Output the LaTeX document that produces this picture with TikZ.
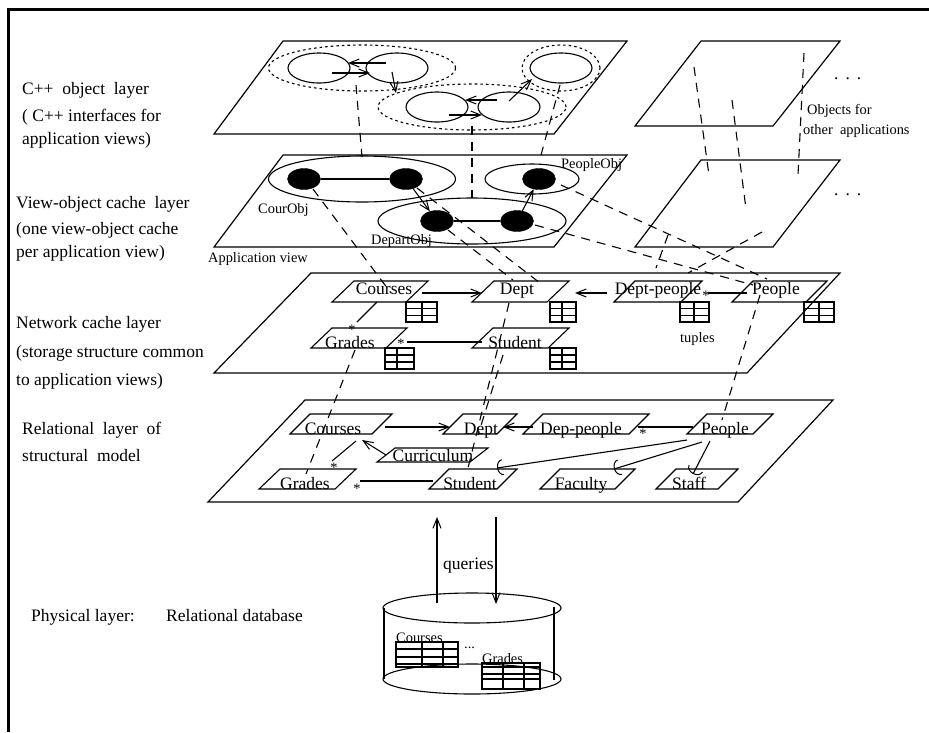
\documentclass[tikz,border=0pt]{standalone}
\usepackage{fontspec}
\setmainfont{Liberation Serif}
\usetikzlibrary{arrows.meta,shapes.geometric}
\tikzset{
  >={Straight Barb[length=10pt,width=8pt,line width=1pt]},
  every node/.style={inner sep=0pt},
  frameline/.style={line width=3pt},
  plane/.style={line width=1.2pt,line join=miter},
  entline/.style={line width=1.1pt},
  tabline/.style={line width=1.1pt},
  arrow/.style={->,line width=1.1pt},
  plain/.style={line width=1.1pt},
  hook/.style={-{Arc Barb[length=6pt,width=16pt,line width=1pt]},line width=1.1pt},
  dashedline/.style={line width=1.1pt,dash pattern=on 9pt off 7pt},
  oval/.style={ellipse,draw,line width=1.1pt},
  group/.style={oval,dash pattern=on 2.6pt off 3pt},
  blackdot/.style={ellipse,draw,fill=black,minimum width=33pt,minimum height=21pt},
  biglbl/.style={font=\fontsize{17.5}{20}\selectfont,anchor=base west},
  smalllbl/.style={font=\fontsize{14.4}{17}\selectfont,anchor=base west},
  entlbl/.style={font=\fontsize{17.5}{20}\selectfont,anchor=base},
  star/.style={font=\fontsize{14.4}{17}\selectfont,anchor=base},
}
\newcommand{\ent}[9]{%
  \draw[entline] (#2,#5) -- ({#2+#6},#4) -- (#3,#4) -- ({#3-#6},#5) -- cycle;
  \node[entlbl] (#1) at (#7,#8) {#9};
}
\newcommand{\gridtab}[5]{%
  \draw[tabline] (#1,#2) rectangle (#3,#4) (#5,#2) -- (#5,#4)
    (#1,{#2+(#4-#2)/3}) -- (#3,{#2+(#4-#2)/3}) (#1,{#2+2*(#4-#2)/3}) -- (#3,{#2+2*(#4-#2)/3});
}
\begin{document}
\begin{tikzpicture}[x=1pt,y=-1pt]
\useasboundingbox (0,0) rectangle (929,732);
\draw[frameline] (929,9) -- (8,9) -- (8,732);

\node[biglbl] (t1) at (22,94) {C++~ object~ layer};
\node[biglbl] (t2) at (22,121) {( C++ interfaces for};
\node[biglbl] (t3) at (22,144) {application views)};
\node[biglbl] (t4) at (16,208) {View-object cache~ layer};
\node[biglbl] (t5) at (16,234) {(one view-object cache};
\node[biglbl] (t6) at (16,257) {per application view)};
\node[biglbl] (t7) at (16,328) {Network cache layer};
\node[biglbl] (t8) at (16,357) {(storage structure common};
\node[biglbl] (t9) at (16,385) {to application views)};
\node[biglbl] (t10) at (22,434) {Relational~ layer~ of};
\node[biglbl] (t11) at (22,461) {structural~ model};
\node[biglbl] (t12) at (31,621) {Physical layer:};
\node[biglbl] (t13) at (166,621) {Relational database};

\draw[plane] (283,41) -- (627,41) -- (554,134) -- (214,134) -- cycle;
\draw[plane] (283,155) -- (627,155) -- (554,247) -- (214,247) -- cycle;
\draw[plane] (701,41) -- (840,41) -- (773,126) -- (635,126) -- cycle;
\draw[plane] (701,160) -- (840,160) -- (773,247) -- (635,247) -- cycle;
\draw[plane] (311,273) -- (840,273) -- (747,373) -- (214,373) -- cycle;
\draw[plane] (305,400) -- (833,400) -- (738,502) -- (208,502) -- cycle;

\node[group,minimum width=187pt,minimum height=46pt] (dotcour) at (362,68) {};
\node[group,minimum width=188pt,minimum height=46pt] (dotdept) at (472,107) {};
\node[group,minimum width=78pt,minimum height=46pt] (dotpeop) at (561,68) {};
\node[oval,minimum width=62pt,minimum height=30pt] (objc1) at (319,68) {};
\node[oval,minimum width=62pt,minimum height=30pt] (objc2) at (397,68) {};
\node[oval,minimum width=62pt,minimum height=30pt] (objd1) at (437,107) {};
\node[oval,minimum width=62pt,minimum height=30pt] (objd2) at (509,107) {};
\node[oval,minimum width=62pt,minimum height=30pt] (objp) at (561,68) {};
\draw[arrow] ([shift={(-11,-5)}]objc2.center) -- ([shift={(29,-5)}]objc1.center);
\draw[arrow] ([shift={(13,5)}]objc1.center) -- ([shift={(-27,5)}]objc2.center);
\draw[arrow] ([shift={(-5,4)}]objc2.center) -- ([shift={(-76,-14)}]dotdept.center);
\draw[arrow] ([shift={(-12,-7)}]objd2.center) -- ([shift={(28,-7)}]objd1.center);
\draw[arrow] ([shift={(12,8)}]objd1.center) -- ([shift={(-27,8)}]objd2.center);
\draw[arrow] ([shift={(0,-6)}]objd2.center) -- ([shift={(-29,11)}]objp.center);

\node[oval,minimum width=187pt,minimum height=46pt] (courobj) at (362,179) {};
\node[oval,minimum width=188pt,minimum height=46pt] (departobj) at (472,221) {};
\node[oval,minimum width=94pt,minimum height=30pt] (peopleobj) at (532,179) {};
\node[blackdot] (bc1) at (304,179) {};
\node[blackdot] (bc2) at (406,179) {};
\node[blackdot] (bd1) at (437,221) {};
\node[blackdot] (bd2) at (517,221) {};
\node[blackdot] (bp) at (539,179) {};
\draw[plain] (bc1) -- (bc2);
\draw[plain] (bd1) -- (bd2);
\draw[arrow] (bc2) -- (bd1);
\draw[arrow] (bd2) -- (bp);
\node[smalllbl] (lcour) at (258,213) {CourObj};
\node[smalllbl] (ldept) at (371,244) {DepartObj};
\node[smalllbl] (lpeop) at (561,168) {PeopleObj};
\node[smalllbl] (lview) at (208,262) {Application view};

\draw[dashedline] ([shift={(-6,17)}]dotcour.center) -- ([shift={(0,-22)}]courobj.center);
\draw[dashedline] ([shift={(0,19)}]dotdept.center) -- ([shift={(0,-23)}]departobj.center);
\draw[dashedline] ([shift={(-1,17)}]dotpeop.center) -- ([shift={(9,-24)}]peopleobj.center);

\coordinate (ra1) at (694,67);
\coordinate (ra2) at (709,175);
\coordinate (rb1) at (732,100);
\coordinate (rb2) at (746,209);
\coordinate (rc1) at (804,53);
\coordinate (rc2) at (798,175);
\coordinate (rd1) at (668,235);
\coordinate (re1) at (762,232);
\draw[dashedline] (ra1) -- (ra2);
\draw[dashedline] (rb1) -- (rb2);
\draw[dashedline] (rc1) -- (rc2);
\node[biglbl] (dots1) at (834,79) {.\hspace{7pt}.\hspace{7pt}.};
\node[biglbl] (dots2) at (834,195) {.\hspace{7pt}.\hspace{7pt}.};
\node[smalllbl] (lother1) at (807,114) {Objects for};
\node[smalllbl] (lother2) at (803,134) {other~ applications};

\ent{nCourses}{332}{428}{281}{302}{22}{384}{294}{Courses}
\ent{nDept}{472}{569}{281}{302}{22}{517}{294}{Dept}
\ent{nDeptp}{614}{702}{281}{302}{21}{658}{294}{Dept-people}
\ent{nPeople}{732}{827}{281}{302}{21}{776}{294}{People}
\ent{nGrades}{311}{407}{328}{348}{21}{350}{348}{Grades}
\ent{nStudent}{472}{569}{328}{348}{21}{515}{348}{Student}
\gridtab{406}{302}{437}{322}{422}
\gridtab{550}{302}{576}{322}{562}
\gridtab{680}{302}{709}{322}{694}
\gridtab{804}{302}{834}{322}{819}
\gridtab{385}{348}{414}{369}{397}
\gridtab{550}{348}{576}{369}{562}
\node[smalllbl] (ltuples) at (680,342) {tuples};

\draw[dashedline] ([shift={(9,10)}]bc1.center) -- ([shift={(7,-1)}]nCourses.base);
\draw[dashedline] ([shift={(11,9)}]bc2.center) -- ([shift={(23,-11)}]nDept.base);
\draw[dashedline] ([shift={(11,9)}]bd1.center) -- ([shift={(-4,-14)}]nDept.base);
\draw[dashedline] ([shift={(22,6)}]bp.center) -- ([shift={(-9,-15)}]nPeople.base);
\draw[dashedline] ([shift={(18,4)}]bd2.center) -- ([shift={(-23,-9)}]nPeople.base);
\draw[dashedline] (rd1) -- ([shift={(-2,-26)}]nDeptp.base);
\draw[dashedline] (re1) -- ([shift={(30,-21)}]nDeptp.base);

\draw[arrow] ([shift={(38,-1)}]nCourses.base) -- ([shift={(-35,-1)}]nDept.base);
\draw[arrow] ([shift={(-51,-1)}]nDeptp.base) -- ([shift={(58,-1)}]nDept.base);
\draw[plain] ([shift={(-29,-1)}]nPeople.base) -- ([shift={(50,-1)}]nDeptp.base);
\draw[plain] ([shift={(57,-6)}]nGrades.base) -- ([shift={(-33,-6)}]nStudent.base);
\draw[plain] ([shift={(-7,8)}]nCourses.base) -- ([shift={(7,-26)}]nGrades.base);
\node[star] (s1) at (706,300) {*};
\node[star] (s2) at (352,334) {*};
\node[star] (s3) at (401,348) {*};

\ent{rCourses}{290}{392}{414}{434}{20}{333}{434}{Courses}
\ent{rDept}{443}{517}{414}{434}{20}{481}{434}{Dept}
\ent{rDepp}{523}{649}{414}{434}{20}{581}{434}{Dep-people}
\ent{rPeople}{687}{773}{414}{434}{20}{725}{434}{People}
\ent{rCurr}{377}{488}{448}{462}{18}{433}{461}{Curriculum}
\ent{rGrades}{259}{356}{469}{489}{21}{305}{489}{Grades}
\ent{rStudent}{429}{517}{469}{489}{20}{470}{489}{Student}
\ent{rFaculty}{540}{635}{469}{489}{20}{581}{489}{Faculty}
\ent{rStaff}{656}{738}{469}{489}{20}{689}{489}{Staff}

\draw[dashedline] ([shift={(5,2)}]nGrades.base) -- ([shift={(1,-15)}]rGrades.base);
\draw[dashedline] ([shift={(-8,9)}]nDept.base) -- ([shift={(-3,-17)}]rStudent.base);
\draw[dashedline] ([shift={(-12,7)}]nStudent.base) -- ([shift={(-3,1)}]rDept.base);
\draw[dashedline] ([shift={(-16,1)}]nPeople.base) -- ([shift={(-3,-14)}]rPeople.base);

\draw[arrow] ([shift={(52,-7)}]rCourses.base) -- ([shift={(-31,-7)}]rDept.base);
\draw[arrow] ([shift={(-48,-7)}]rDepp.base) -- ([shift={(22,-7)}]rDept.base);
\draw[plain] ([shift={(-32,-7)}]rPeople.base) -- ([shift={(57,-7)}]rDepp.base);
\draw[arrow] ([shift={(-47,-6)}]rCurr.base) -- ([shift={(29,6)}]rCourses.base);
\draw[plain] ([shift={(23,7)}]rCourses.base) -- ([shift={(27,-28)}]rGrades.base);
\draw[plain] ([shift={(-37,-8)}]rStudent.base) -- ([shift={(55,-8)}]rGrades.base);
\draw[hook] ([shift={(-38,6)}]rPeople.base) -- ([shift={(27,-21)}]rStudent.base);
\draw[hook] ([shift={(-23,8)}]rPeople.base) -- ([shift={(33,-20)}]rFaculty.base);
\draw[hook] ([shift={(-15,7)}]rPeople.base) -- ([shift={(4,-15)}]rStaff.base);
\node[star] (s4) at (643,438) {*};
\node[star] (s5) at (334,472) {*};
\node[star] (s6) at (357,493) {*};

\node[oval,minimum width=178pt,minimum height=30pt] (cyltop) at (472,608) {};
\node[oval,minimum width=178pt,minimum height=30pt] (cylbot) at (472,679) {};
\draw[plain] ([shift={(-88,0)}]cyltop.center) -- ([shift={(-88,0)}]cylbot.center);
\draw[plain] ([shift={(82,-1)}]cyltop.center) -- ([shift={(82,1)}]cylbot.center);
\coordinate (qup) at (437,517);
\coordinate (qdown) at (496,517);
\draw[arrow] ([shift={(-35,-5)}]cyltop.center) -- (qup);
\draw[arrow] (qdown) -- ([shift={(24,-4)}]cyltop.center);
\node[biglbl] (lqueries) at (443,569) {queries};

\draw[tabline] (396,642) rectangle (458,667);
\foreach \yy in {649,657,664} \draw[tabline] (396,\yy) -- (458,\yy);
\foreach \xx in {422,443} \draw[tabline] (\xx,642) -- (\xx,667);
\draw[tabline] (482,663) rectangle (540,689);
\foreach \yy in {667,674,679} \draw[tabline] (482,\yy) -- (540,\yy);
\foreach \xx in {503,524} \draw[tabline] (\xx,663) -- (\xx,689);
\node[smalllbl] (lcyc) at (396,642) {Courses};
\node[smalllbl] (lcyg) at (482,663) {Grades};
\node[smalllbl] (lcyd) at (464,648) {...};
\end{tikzpicture}
\end{document}
